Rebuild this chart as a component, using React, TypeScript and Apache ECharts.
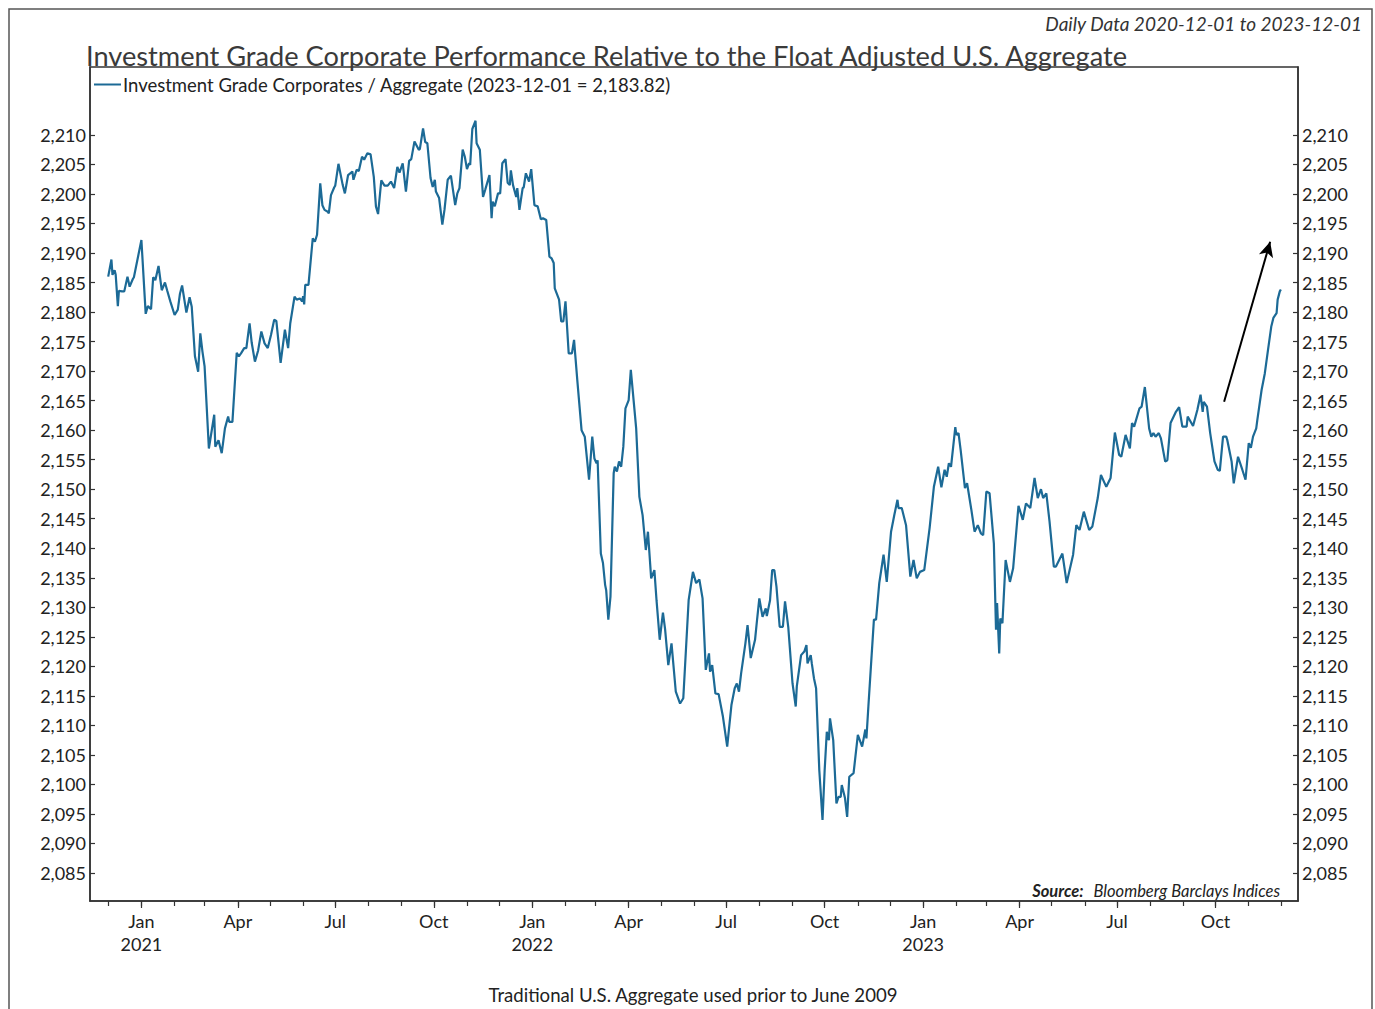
import React, { useEffect, useRef } from "react";
import * as echarts from "echarts";

const chartTitle = "Investment Grade Corporate Performance Relative to the Float Adjusted U.S. Aggregate";
const subtitle = "Daily Data 2020-12-01 to 2023-12-01";
const seriesName = "Investment Grade Corporates / Aggregate (2023-12-01 = 2,183.82)";
const footnote = "Traditional U.S. Aggregate used prior to June 2009";
const sourceLabel = "Source:";
const sourceText = "Bloomberg Barclays Indices";

const xRange = ["2020-11-14", "2023-12-17"];
const yRange = [2080.26, 2221.5];
const yTicks = [2085, 2090, 2095, 2100, 2105, 2110, 2115, 2120, 2125, 2130, 2135, 2140, 2145, 2150, 2155, 2160, 2165, 2170, 2175, 2180, 2185, 2190, 2195, 2200, 2205, 2210];
const monthNames = ["Jan", "Feb", "Mar", "Apr", "May", "Jun", "Jul", "Aug", "Sep", "Oct", "Nov", "Dec"];
const quarterMonths = [0, 3, 6, 9];
const arrowFrom: [string, number] = ["2023-10-09", 2164.8];
const arrowTo: [string, number] = ["2023-11-21", 2191.9];

const dates = [
  "2020-12-01","2020-12-04","2020-12-05","2020-12-07","2020-12-08","2020-12-10","2020-12-11","2020-12-14","2020-12-16","2020-12-19",
  "2020-12-21","2020-12-24","2020-12-25","2021-01-01","2021-01-05","2021-01-07","2021-01-10","2021-01-12","2021-01-14","2021-01-17",
  "2021-01-20","2021-01-23","2021-01-25","2021-01-28","2021-02-01","2021-02-04","2021-02-06","2021-02-08","2021-02-12","2021-02-15",
  "2021-02-17","2021-02-20","2021-02-23","2021-02-25","2021-02-27","2021-03-01","2021-03-05","2021-03-10","2021-03-11","2021-03-14",
  "2021-03-17","2021-03-20","2021-03-23","2021-03-24","2021-03-27","2021-03-31","2021-04-02","2021-04-04","2021-04-07","2021-04-09",
  "2021-04-12","2021-04-14","2021-04-17","2021-04-20","2021-04-23","2021-04-26","2021-04-29","2021-05-02","2021-05-05","2021-05-07",
  "2021-05-11","2021-05-15","2021-05-18","2021-05-20","2021-05-24","2021-05-26","2021-05-29","2021-05-31","2021-06-01","2021-06-02",
  "2021-06-03","2021-06-06","2021-06-10","2021-06-12","2021-06-14","2021-06-17","2021-06-19","2021-06-21","2021-06-24","2021-06-25",
  "2021-06-27","2021-06-30","2021-07-01","2021-07-04","2021-07-08","2021-07-10","2021-07-13","2021-07-15","2021-07-17","2021-07-18",
  "2021-07-21","2021-07-23","2021-07-26","2021-07-28","2021-07-31","2021-08-03","2021-08-06","2021-08-08","2021-08-10","2021-08-13",
  "2021-08-16","2021-08-19","2021-08-22","2021-08-25","2021-08-28","2021-08-30","2021-09-02","2021-09-05","2021-09-08","2021-09-10",
  "2021-09-13","2021-09-17","2021-09-18","2021-09-21","2021-09-23","2021-09-25","2021-09-28","2021-09-30","2021-10-02","2021-10-03",
  "2021-10-06","2021-10-09","2021-10-11","2021-10-14","2021-10-17","2021-10-21","2021-10-23","2021-10-25","2021-10-28","2021-10-30",
  "2021-11-01","2021-11-03","2021-11-04","2021-11-06","2021-11-09","2021-11-10","2021-11-13","2021-11-16","2021-11-18","2021-11-22",
  "2021-11-24","2021-11-25","2021-11-27","2021-11-30","2021-12-02","2021-12-04","2021-12-07","2021-12-09","2021-12-11","2021-12-12",
  "2021-12-14","2021-12-17","2021-12-18","2021-12-20","2021-12-23","2021-12-24","2021-12-26","2021-12-29","2021-12-31","2022-01-03",
  "2022-01-06","2022-01-09","2022-01-11","2022-01-14","2022-01-17","2022-01-19","2022-01-21","2022-01-22","2022-01-26","2022-01-28",
  "2022-01-30","2022-02-01","2022-02-04","2022-02-07","2022-02-09","2022-02-10","2022-02-12","2022-02-16","2022-02-19","2022-02-23",
  "2022-02-26","2022-02-28","2022-03-02","2022-03-03","2022-03-06","2022-03-08","2022-03-10","2022-03-11","2022-03-13","2022-03-15",
  "2022-03-18","2022-03-19","2022-03-21","2022-03-23","2022-03-25","2022-03-27","2022-03-29","2022-04-01","2022-04-03","2022-04-07",
  "2022-04-08","2022-04-11","2022-04-14","2022-04-17","2022-04-19","2022-04-22","2022-04-25","2022-04-27","2022-04-30","2022-05-03",
  "2022-05-05","2022-05-08","2022-05-11","2022-05-15","2022-05-19","2022-05-22","2022-05-27","2022-05-31","2022-06-03","2022-06-06",
  "2022-06-09","2022-06-12","2022-06-15","2022-06-16","2022-06-18","2022-06-21","2022-06-24","2022-06-28","2022-07-02","2022-07-06",
  "2022-07-09","2022-07-11","2022-07-13","2022-07-15","2022-07-19","2022-07-21","2022-07-24","2022-07-28","2022-07-30","2022-08-01",
  "2022-08-04","2022-08-07","2022-08-08","2022-08-11","2022-08-13","2022-08-15","2022-08-17","2022-08-20","2022-08-23","2022-08-25",
  "2022-08-28","2022-09-01","2022-09-04","2022-09-05","2022-09-09","2022-09-12","2022-09-14","2022-09-15","2022-09-18","2022-09-19",
  "2022-09-21","2022-09-23","2022-09-26","2022-09-29","2022-10-01","2022-10-03","2022-10-05","2022-10-06","2022-10-09","2022-10-12",
  "2022-10-14","2022-10-16","2022-10-17","2022-10-20","2022-10-22","2022-10-24","2022-10-28","2022-11-01","2022-11-05","2022-11-08",
  "2022-11-09","2022-11-11","2022-11-13","2022-11-16","2022-11-18","2022-11-21","2022-11-25","2022-11-28","2022-12-02","2022-12-05",
  "2022-12-08","2022-12-09","2022-12-12","2022-12-16","2022-12-20","2022-12-23","2022-12-26","2022-12-29","2023-01-02","2023-01-07",
  "2023-01-11","2023-01-15","2023-01-18","2023-01-21","2023-01-23","2023-01-25","2023-01-27","2023-01-31","2023-02-01","2023-02-03",
  "2023-02-05","2023-02-09","2023-02-11","2023-02-15","2023-02-18","2023-02-21","2023-02-24","2023-02-26","2023-03-01","2023-03-04",
  "2023-03-08","2023-03-10","2023-03-11","2023-03-13","2023-03-14","2023-03-16","2023-03-19","2023-03-23","2023-03-26","2023-03-31",
  "2023-04-04","2023-04-07","2023-04-11","2023-04-15","2023-04-18","2023-04-21","2023-04-23","2023-04-26","2023-04-29","2023-05-03",
  "2023-05-05","2023-05-08","2023-05-11","2023-05-15","2023-05-21","2023-05-24","2023-05-27","2023-05-31","2023-06-05","2023-06-08",
  "2023-06-13","2023-06-16","2023-06-21","2023-06-25","2023-06-29","2023-07-03","2023-07-05","2023-07-09","2023-07-13","2023-07-15",
  "2023-07-17","2023-07-22","2023-07-24","2023-07-27","2023-07-31","2023-08-02","2023-08-04","2023-08-06","2023-08-09","2023-08-11",
  "2023-08-15","2023-08-17","2023-08-20","2023-08-25","2023-08-28","2023-08-31","2023-09-04","2023-09-05","2023-09-10","2023-09-14",
  "2023-09-17","2023-09-19","2023-09-20","2023-09-23","2023-09-26","2023-09-30","2023-10-03","2023-10-05","2023-10-08","2023-10-11",
  "2023-10-12","2023-10-16","2023-10-18","2023-10-22","2023-10-26","2023-10-29","2023-11-01","2023-11-03","2023-11-05","2023-11-08",
  "2023-11-09","2023-11-13","2023-11-16","2023-11-19","2023-11-22","2023-11-24","2023-11-27","2023-11-28","2023-11-30","2023-12-01"
];

const values = [
  2186.0,2188.9,2186.3,2187.1,2186.3,2181.0,2183.6,2183.5,2183.5,2186.0,
  2184.3,2185.6,2185.9,2192.2,2179.7,2181.0,2180.5,2185.9,2185.4,2187.8,
  2183.7,2185.0,2183.7,2181.8,2179.5,2180.4,2183.1,2184.5,2179.9,2182.5,
  2180.9,2172.5,2169.9,2176.4,2173.3,2170.8,2156.9,2162.6,2157.2,2158.3,
  2156.1,2160.3,2162.3,2161.4,2161.4,2173.1,2172.5,2173.0,2173.9,2173.9,
  2178.1,2174.8,2171.6,2173.5,2176.7,2174.7,2173.9,2176.1,2178.7,2178.5,
  2171.4,2177.0,2173.9,2178.1,2182.6,2182.1,2182.3,2181.8,2182.7,2181.3,
  2184.6,2184.6,2192.5,2191.9,2193.1,2201.8,2198.1,2197.3,2197.0,2196.7,
  2199.8,2201.1,2201.4,2205.1,2201.5,2200.1,2203.2,2203.5,2203.8,2202.4,
  2204.1,2203.9,2206.3,2205.8,2206.9,2206.7,2202.9,2197.9,2196.6,2202.3,
  2201.4,2201.4,2202.1,2201.0,2204.6,2203.6,2205.2,2200.4,2205.6,2205.9,
  2208.9,2207.5,2207.6,2211.1,2208.8,2208.6,2202.7,2201.2,2202.4,2200.4,
  2199.3,2194.8,2197.3,2202.4,2203.1,2198.1,2200.1,2201.0,2207.5,2206.3,
  2204.2,2205.2,2204.9,2211.0,2212.4,2208.6,2207.5,2199.5,2200.7,2203.2,
  2195.9,2198.7,2197.9,2200.1,2200.1,2205.2,2205.9,2201.9,2201.5,2204.0,
  2201.5,2199.5,2201.0,2197.3,2201.0,2201.1,2203.5,2202.1,2204.2,2198.1,
  2197.9,2195.7,2195.9,2195.6,2189.4,2189.1,2188.3,2184.0,2182.1,2178.4,
  2178.4,2181.8,2173.0,2173.0,2175.3,2173.0,2168.5,2160.0,2158.9,2151.6,
  2158.9,2155.2,2154.4,2154.9,2139.1,2137.5,2133.8,2132.9,2127.9,2131.8,
  2152.7,2153.8,2153.0,2154.7,2153.8,2157.2,2163.7,2165.1,2170.2,2162.3,
  2160.3,2148.7,2145.6,2139.7,2142.8,2134.9,2136.3,2131.2,2124.5,2129.1,
  2126.3,2120.2,2123.9,2115.7,2113.7,2114.6,2131.2,2136.0,2134.1,2134.7,
  2131.5,2119.4,2122.2,2119.1,2120.2,2115.4,2115.3,2111.5,2106.4,2113.5,
  2116.3,2117.1,2115.7,2118.8,2123.9,2127.0,2121.4,2124.5,2128.1,2131.5,
  2128.4,2129.8,2128.5,2131.2,2136.3,2136.3,2133.5,2126.7,2126.7,2131.0,
  2126.7,2117.1,2113.2,2116.6,2121.9,2122.5,2123.6,2120.5,2121.9,2120.5,
  2118.0,2116.3,2102.4,2094.0,2102.4,2108.9,2107.5,2111.2,2107.5,2096.8,
  2097.9,2097.9,2099.9,2097.7,2094.5,2101.3,2101.9,2108.4,2106.4,2109.3,
  2107.8,2113.7,2119.4,2127.9,2127.9,2134.1,2138.9,2134.3,2142.8,2145.6,
  2148.2,2146.8,2146.8,2143.9,2135.2,2138.0,2134.9,2136.0,2136.3,2143.4,
  2150.4,2153.8,2150.3,2153.3,2152.1,2154.4,2153.8,2160.5,2159.2,2159.5,
  2156.6,2150.2,2151.0,2146.5,2142.8,2143.9,2142.5,2142.2,2149.6,2149.3,
  2140.8,2126.2,2130.7,2122.2,2128.1,2127.3,2138.0,2134.3,2136.6,2147.2,
  2144.8,2147.6,2146.8,2151.9,2148.5,2150.0,2148.5,2149.3,2144.5,2136.9,
  2136.9,2138.0,2139.1,2134.1,2138.9,2143.9,2143.1,2146.2,2143.1,2143.7,
  2148.5,2152.4,2150.4,2151.9,2159.6,2155.8,2155.5,2159.2,2156.9,2161.2,
  2160.6,2163.7,2164.0,2167.3,2160.3,2158.9,2159.5,2158.9,2159.5,2158.6,
  2154.7,2154.9,2161.2,2163.1,2163.9,2160.6,2160.6,2162.3,2160.7,2163.4,
  2166.0,2163.1,2164.8,2164.0,2159.5,2154.7,2153.3,2153.1,2158.9,2158.9,
  2158.3,2154.7,2151.0,2155.5,2153.3,2151.6,2157.8,2157.0,2158.9,2160.3,
  2161.7,2166.8,2169.6,2173.6,2177.5,2179.0,2179.8,2182.1,2183.5,2183.82
];

const FONT = "Lato, 'Open Sans', sans-serif";
const LINE_COLOR = "#1c6a96";
const AXIS_COLOR = "#333";
const TEXT_COLOR = "#222";

function ts(s: string): number {
  const [y, m, d] = s.split("-").map(Number);
  return new Date(y, m - 1, d).getTime();
}

function fmtThousands(v: number): string {
  const s = String(Math.round(v));
  return s.replace(/\B(?=(\d{3})+(?!\d))/g, ",");
}

export default function App() {
  const ref = useRef<HTMLDivElement>(null);

  useEffect(() => {
    if (!ref.current) return;
    const chart = echarts.init(ref.current, undefined, { renderer: "svg" });

    const xMin = ts(xRange[0]);
    const xMax = ts(xRange[1]);
    const monthTicks: number[] = [];
    const quarterTicks: number[] = [];
    for (let y = 2020; y <= 2023; y++) {
      for (let m = 0; m < 12; m++) {
        const t = new Date(y, m, 1).getTime();
        if (t < xMin || t > xMax) continue;
        monthTicks.push(t);
        if (quarterMonths.includes(m)) quarterTicks.push(t);
      }
    }

    const data = dates.map((d, i) => [ts(d), values[i]]);

    const yAxisCommon = {
      type: "value" as const,
      min: yRange[0],
      max: yRange[1],
      splitLine: { show: false },
      axisLine: { show: true, lineStyle: { color: AXIS_COLOR, width: 1.5 } },
      axisTick: {
        show: true,
        inside: true,
        length: 5,
        customValues: yTicks,
        lineStyle: { color: AXIS_COLOR, width: 1.2 },
      },
      axisLabel: {
        customValues: yTicks,
        formatter: (v: number) => fmtThousands(v),
        fontSize: 18,
        fontFamily: FONT,
        color: TEXT_COLOR,
        margin: 4,
      },
    };

    const option: any = {
      animation: false,
      backgroundColor: "#ffffff",
      grid: {
        left: 90,
        right: 77,
        top: 67,
        bottom: 108,
        show: true,
        borderColor: AXIS_COLOR,
        borderWidth: 1.5,
        backgroundColor: "transparent",
      },
      legend: {
        show: true,
        left: 94,
        top: 75,
        padding: 0,
        icon: "rect",
        itemWidth: 27,
        itemHeight: 2,
        itemGap: 4,
        selectedMode: false,
        textStyle: { fontSize: 18.5, color: TEXT_COLOR, fontFamily: FONT, padding: [0, 0, 0, -3] },
        data: [seriesName],
      },
      xAxis: [
        {
          type: "value",
          min: xMin,
          max: xMax,
          position: "bottom",
          splitLine: { show: false },
          axisLine: { show: true, lineStyle: { color: AXIS_COLOR, width: 1.5 } },
          axisTick: { show: true, customValues: monthTicks, length: 5, lineStyle: { color: AXIS_COLOR, width: 1.2 } },
          axisLabel: { show: false },
        },
        {
          type: "value",
          min: xMin,
          max: xMax,
          position: "bottom",
          splitLine: { show: false },
          axisLine: { show: false },
          axisTick: { show: true, customValues: quarterTicks, length: 7, lineStyle: { color: AXIS_COLOR, width: 1.2 } },
          axisLabel: {
            customValues: quarterTicks,
            formatter: (v: number) => {
              const d = new Date(v);
              const m = d.getMonth();
              return m === 0 ? monthNames[m] + "\n" + d.getFullYear() : monthNames[m];
            },
            fontSize: 18,
            fontFamily: FONT,
            color: TEXT_COLOR,
            lineHeight: 23,
            margin: 8,
          },
        },
      ],
      yAxis: [
        { ...yAxisCommon, position: "left" },
        { ...yAxisCommon, position: "right" },
      ],
      series: [
        {
          name: seriesName,
          type: "line",
          xAxisIndex: 0,
          yAxisIndex: 0,
          data,
          showSymbol: false,
          symbol: "none",
          color: LINE_COLOR,
          lineStyle: { color: LINE_COLOR, width: 2.2 },
          silent: true,
          markLine: {
            silent: true,
            symbol: ["none", "arrow"],
            symbolSize: [11, 15],
            label: { show: false },
            lineStyle: { color: "#000", width: 2, type: "solid" },
            data: [
              [
                { coord: [ts(arrowFrom[0]), arrowFrom[1]] },
                { coord: [ts(arrowTo[0]), arrowTo[1]] },
              ],
            ],
          },
        },
      ],
      graphic: [
        {
          type: "rect",
          shape: { x: 9, y: 9, width: 1363, height: 1030 },
          style: { fill: "none", stroke: "#555", lineWidth: 1.5 },
          silent: true,
          z: 0,
        },
        {
          type: "text",
          x: 1362,
          y: 23,
          style: {
            text: subtitle,
            font: "italic 19px " + FONT,
            fill: "#333",
            align: "right",
            verticalAlign: "middle",
          },
        },
        {
          type: "text",
          x: 86,
          y: 55,
          style: {
            text: chartTitle,
            font: "27.2px " + FONT,
            fill: "#3a3a3a",
            align: "left",
            verticalAlign: "middle",
          },
        },
        {
          type: "text",
          x: 1280,
          y: 891,
          style: {
            text: "{b|" + sourceLabel + "}   {i|" + sourceText + "}",
            align: "right",
            verticalAlign: "middle",
            rich: {
              b: { font: "italic bold 16.5px " + FONT, fill: TEXT_COLOR },
              i: { font: "italic 16.5px " + FONT, fill: TEXT_COLOR },
            },
          },
        },
        {
          type: "text",
          x: 693,
          y: 995,
          style: {
            text: footnote,
            font: "18.6px " + FONT,
            fill: TEXT_COLOR,
            align: "center",
            verticalAlign: "middle",
          },
        },
      ],
    };

    chart.setOption(option);
    return () => chart.dispose();
  }, []);

  return (
    <div
      ref={ref}
      style={{ position: "fixed", left: 0, top: 0, width: 1375, height: 1009, background: "#fff" }}
    />
  );
}
